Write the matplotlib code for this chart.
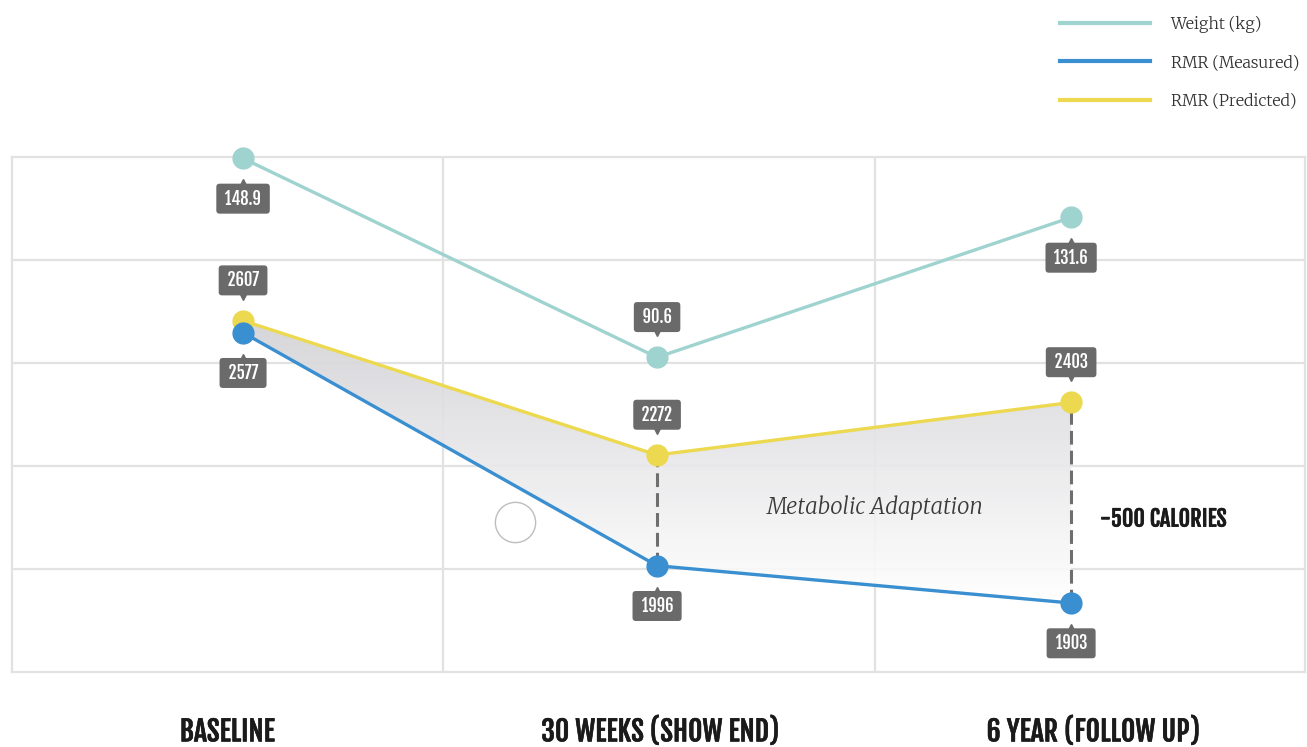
import numpy as np
import matplotlib.pyplot as plt
import matplotlib.transforms as mtransforms
import matplotlib.patheffects as pe
from matplotlib.patches import Polygon
from matplotlib.lines import Line2D
from matplotlib.colors import LinearSegmentedColormap

stages = ['BASELINE', '30 WEEKS (SHOW END)', '6 YEAR (FOLLOW UP)']
weight_kg = [148.9, 90.6, 131.6]
rmr_measured = [2577, 1996, 1903]
rmr_predicted = [2607, 2272, 2403]
series_names = ['Weight (kg)', 'RMR (Measured)', 'RMR (Predicted)']

weight_color = '#9fd3cf'
measured_color = '#3a8fd0'
predicted_color = '#ecd94f'
tag_color = '#6a6a6a'
grid_color = '#e2e2e2'

narrow = ['Fjalla One', 'Barlow Condensed', 'Oswald', 'DejaVu Sans']
serif = ['Merriweather', 'Liberation Serif']
heavy = [pe.withStroke(linewidth=0.4, foreground='#1a1a1a')]

fig = plt.figure(figsize=(13.07, 7.47), dpi=100)
ax = fig.add_axes([0.0092, 0.1004, 0.9893, 0.6894])
x = np.arange(len(stages))

# background grid: 5 equal rows, two column dividers
for f in np.linspace(0, 1, 6)[1:-1]:
    ax.plot([0, 1], [f, f], transform=ax.transAxes, color=grid_color, lw=1.6, zorder=0)
for xv in (0.483, 1.527):
    ax.axvline(xv, color=grid_color, lw=1.6, zorder=0)
for s in ax.spines.values():
    s.set_color(grid_color)
    s.set_linewidth(1.6)

# shaded gap between predicted and measured RMR
verts = list(zip(x, rmr_predicted)) + list(zip(x[::-1], rmr_measured[::-1]))
clip = Polygon(verts, closed=True, facecolor='none', edgecolor='none')
ax.add_patch(clip)
grad = np.linspace(0, 1, 256).reshape(-1, 1)
fade = LinearSegmentedColormap.from_list('fade', ['#ffffff', '#d2d2d6'])
img = ax.imshow(grad, extent=(0, 2, min(rmr_measured), max(rmr_predicted)), origin='lower',
                cmap=fade, aspect='auto', zorder=1, alpha=0.9)
img.set_clip_path(clip)

ax.set_xlim(-0.558, 2.565)
ax.set_ylim(1731, 3015)
ax.set_yticks([])
ax.set_xticks(x)
ax.set_xticklabels(stages, fontfamily=narrow, fontweight='bold', fontsize=20, color='#1a1a1a')
ax.tick_params(axis='x', length=0, pad=32)
for lab, dx in zip(ax.get_xticklabels(), (-16, 3, 22)):
    lab.set_transform(lab.get_transform() + mtransforms.ScaledTranslation(dx / 100, 0, fig.dpi_scale_trans))
    lab.set_path_effects(heavy)

# dashed gap markers
ax.vlines(x[1:], rmr_measured[1:], rmr_predicted[1:], colors='#6e6e6e',
          linestyles=(0, (4.5, 2)), lw=2.2, zorder=2)

ax.plot(x, rmr_predicted, color=predicted_color, lw=2.4, marker='o', ms=15, zorder=3, clip_on=False)
ax.plot(x, rmr_measured, color=measured_color, lw=2.4, marker='o', ms=15, zorder=4, clip_on=False)

# weight on its own scale
ax2 = ax.twinx()
ax2.set_ylim(-1.6, 149.3)
ax2.set_yticks([])
for s in ax2.spines.values():
    s.set_visible(False)
ax2.plot(x, weight_kg, color=weight_color, lw=2.4, marker='o', ms=15, zorder=3, clip_on=False)


def tag(axis, xv, yv, text, above):
    sign = 1 if above else -1
    axis.annotate(f' {text} ', (xv, yv), xytext=(0, sign * 29), textcoords='offset points',
                  ha='center', va='center', fontsize=12, fontfamily=narrow,
                  fontweight='bold', color='white', zorder=6,
                  bbox=dict(boxstyle='round,pad=0.3,rounding_size=0.2', fc=tag_color, ec='none'))
    tr = mtransforms.offset_copy(axis.transData, fig=fig, x=0, y=sign * 18, units='points')
    axis.plot(xv, yv, marker='v' if above else '^', ms=6, color=tag_color,
              transform=tr, zorder=6, clip_on=False)


for xi, w, above in zip(x, weight_kg, [False, True, False]):
    tag(ax2, xi, w, f'{w:.1f}', above)
for xi, v in zip(x, rmr_predicted):
    tag(ax, xi, v, f'{v}', True)
for xi, v in zip(x, rmr_measured):
    tag(ax, xi, v, f'{v}', False)

ax.text(1.527, 2140, 'Metabolic Adaptation', ha='center', va='center', fontsize=16,
        fontfamily=serif, style='italic', color='#3a3a3a', zorder=5)
ax.text(2.07, 2112, '-500 CALORIES', ha='left', va='center', fontsize=16,
        fontfamily=narrow, fontweight='bold', color='#1a1a1a', path_effects=heavy)
ax.plot(0.657, 2105, marker='o', ms=29, mfc='none', mec='#bdbdbd', mew=1, zorder=2)

handles = [Line2D([], [], color=c, lw=3) for c in (weight_color, measured_color, predicted_color)]
fig.legend(handles, series_names, loc='upper left', bbox_to_anchor=(1046 / 1307, 1 - 1 / 747),
           frameon=False, prop={'family': serif, 'size': 11.5}, handlelength=5.6,
           labelspacing=1.35, handletextpad=1.3, labelcolor='#333333')

fig.savefig('out.png', dpi=100)
